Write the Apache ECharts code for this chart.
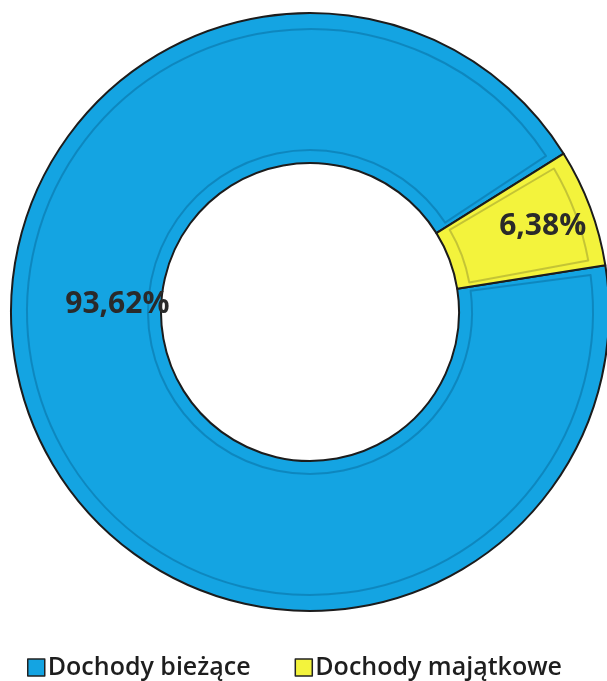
<!DOCTYPE html>
<html><head><meta charset="utf-8">
<script src="https://cdn.jsdelivr.net/npm/echarts@6/dist/echarts.min.js"></script>
<style>html,body{margin:0;padding:0;background:#fff}#c{width:607px;height:681px}</style>
</head><body><div id="c"></div>
<script>
const categories = ['Dochody bieżące', 'Dochody majątkowe'];
const values = [93.62, 6.38];
const colors = ['#14A4E2', '#F3F33C'];
const bevelColors = ['rgba(0,70,110,0.3)', 'rgba(90,90,40,0.3)'];

const chart = echarts.init(document.getElementById('c'));
const fmt = v => v.toFixed(2).replace('.', ',') + '%';
chart.setOption({
  animation: false,
  legend: {
    top: 650, left: 22,
    itemWidth: 17, itemHeight: 17, itemGap: 44,
    icon: 'rect',
    textStyle: { fontFamily: 'Open Sans', fontSize: 25, color: '#1e1e1e', fontWeight: 600, padding: [0, 0, 0, -2] },
    itemStyle: { borderColor: '#222', borderWidth: 1.5 },
    data: categories
  },
  series: [{
    type: 'pie',
    center: [310, 312],
    radius: [149, 299],
    startAngle: 9,
    clockwise: true,
    itemStyle: { borderColor: '#1c1c1c', borderWidth: 2 },
    label: {
      show: true, position: 'inside',
      fontFamily: 'Open Sans', fontSize: 30, fontWeight: 'bold', color: '#2a2a2a',
      formatter: p => fmt(p.value)
    },
    labelLine: { show: false },
    emphasis: { disabled: true },
    data: categories.map((n, i) => ({
      name: n, value: values[i],
      itemStyle: { color: colors[i] },
      label: i === 0 ? { offset: [20, -87] } : { offset: [20, -6] }
    }))
  }, {
    type: 'pie',
    silent: true,
    center: [310, 312],
    radius: [162, 283],
    startAngle: 9,
    padAngle: 3,
    legendHoverLink: false,
    label: { show: false },
    labelLine: { show: false },
    data: categories.map((n, i) => ({
      name: n, value: values[i],
      itemStyle: { color: 'transparent', borderColor: bevelColors[i], borderWidth: 2 }
    }))
  }]
});
</script></body></html>
